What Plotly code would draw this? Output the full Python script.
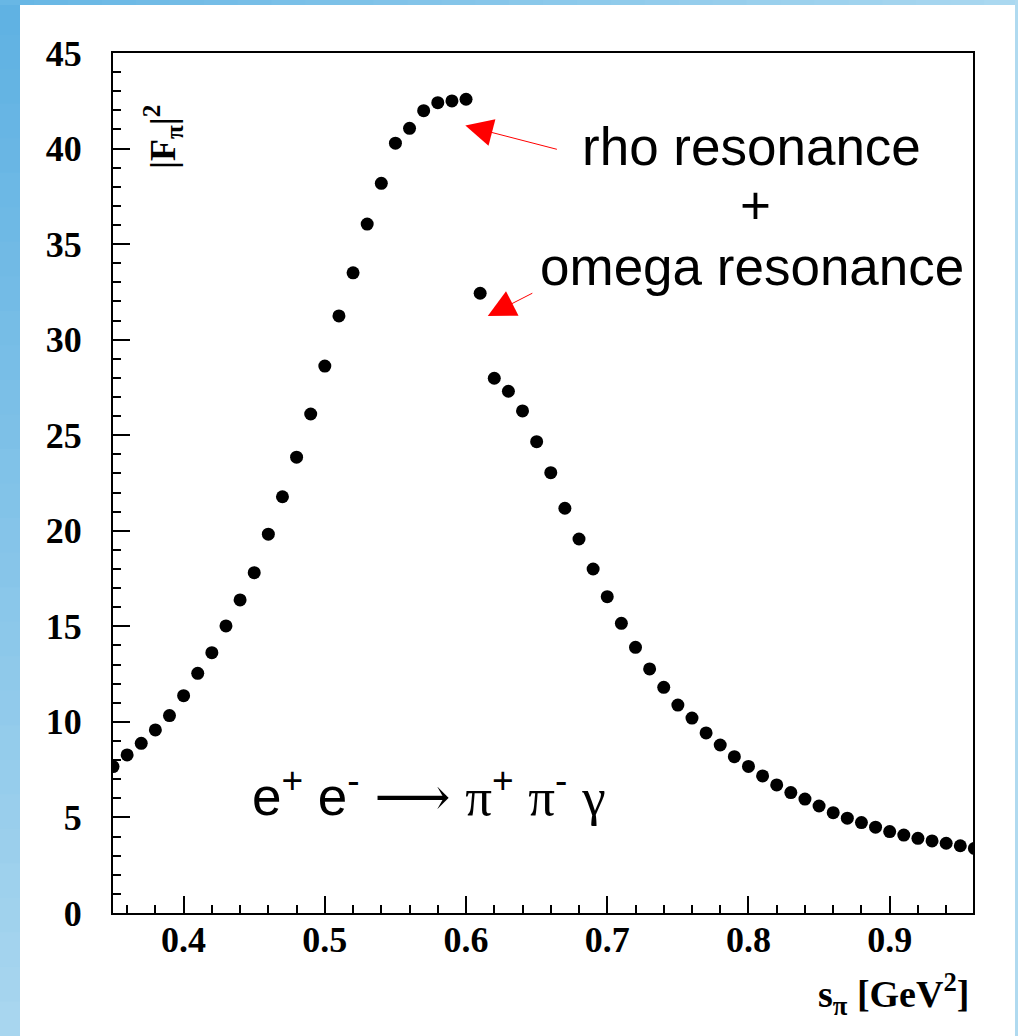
import plotly.graph_objects as go

# |F_pi|^2 vs s_pi
s_pi = [0.35, 0.36, 0.37, 0.38, 0.39, 0.40, 0.41, 0.42, 0.43, 0.44,
        0.45, 0.46, 0.47, 0.48, 0.49, 0.50, 0.51, 0.52, 0.53, 0.54,
        0.55, 0.56, 0.57, 0.58, 0.59, 0.60, 0.61, 0.62, 0.63, 0.64,
        0.65, 0.66, 0.67, 0.68, 0.69, 0.70, 0.71, 0.72, 0.73, 0.74,
        0.75, 0.76, 0.77, 0.78, 0.79, 0.80, 0.81, 0.82, 0.83, 0.84,
        0.85, 0.86, 0.87, 0.88, 0.89, 0.90, 0.91, 0.92, 0.93, 0.94,
        0.95, 0.96]
fpi2 = [7.66, 8.27, 8.88, 9.58, 10.33, 11.37, 12.54, 13.62, 15.02, 16.38,
        17.81, 19.82, 21.78, 23.85, 26.11, 28.62, 31.24, 33.50, 36.05, 38.18,
        40.28, 41.06, 41.98, 42.40, 42.49, 42.58, 32.43, 27.98, 27.30, 26.27,
        24.66, 23.04, 21.18, 19.57, 18.00, 16.55, 15.16, 13.90, 12.77, 11.81,
        10.88, 10.20, 9.42, 8.79, 8.18, 7.67, 7.17, 6.70, 6.30, 5.96,
        5.60, 5.25, 4.96, 4.73, 4.49, 4.26, 4.08, 3.91, 3.77, 3.65,
        3.52, 3.38]

W, H = 1018, 1036
L, R, T, B = 113, 45, 53, 123
PW, PH = W - L - R, H - T - B


def px(x):
    return (x - L) / PW


def py(y):
    return (T + PH - y) / PH


SERIF = "Liberation Serif"
SANS = "Liberation Sans"

fig = go.Figure()
fig.add_trace(go.Scatter(
    x=s_pi, y=fpi2, mode="markers",
    marker=dict(color="black", size=13, line=dict(width=0)),
    showlegend=False,
))

axis_common = dict(
    showgrid=False, zeroline=False,
    showline=True, linecolor="black", linewidth=2, mirror=True,
    ticks="inside", ticklen=17, tickwidth=2, tickcolor="black",
    tickfont=dict(family=SERIF, size=36, color="black", weight="bold"),
)
fig.update_xaxes(range=[0.35, 0.959], dtick=0.1, tick0=0.4,
                 minor=dict(dtick=0.02, ticks="inside", ticklen=8, tickwidth=2, tickcolor="black"),
                 ticklabelstandoff=-6, **axis_common)
fig.update_yaxes(range=[0, 45], dtick=5, tick0=0,
                 minor=dict(dtick=1, ticks="inside", ticklen=8, tickwidth=2, tickcolor="black"),
                 ticklabelstandoff=22, **axis_common)

# blue frame round the slide
shapes = []
n = 30
for i in range(n):
    t = i / (n - 1)
    r = int(96 + (168 - 96) * t)
    g = int(178 + (214 - 178) * t)
    b = int(227 + (239 - 227) * t)
    y0 = i * H / n
    y1 = (i + 1) * H / n + 1
    shapes.append(dict(type="rect", xref="paper", yref="paper",
                       x0=px(0), x1=px(20), y0=py(y1), y1=py(y0),
                       fillcolor=f"rgb({r},{g},{b})", line=dict(width=0), layer="below"))
for i in range(n):
    t = i / (n - 1)
    r = int(104 + (170 - 104) * t)
    g = int(183 + (216 - 183) * t)
    b = int(229 + (240 - 229) * t)
    x0 = i * W / n
    x1 = (i + 1) * W / n + 1
    shapes.append(dict(type="rect", xref="paper", yref="paper",
                       x0=px(x0), x1=px(x1), y0=py(5), y1=py(0),
                       fillcolor=f"rgb({r},{g},{b})", line=dict(width=0), layer="below"))
shapes.append(dict(type="rect", xref="paper", yref="paper",
                   x0=px(1015), x1=px(1018), y0=py(1036), y1=py(0),
                   fillcolor="rgb(176,218,240)", line=dict(width=0), layer="below"))

big = dict(family=SANS, size=53, color="black")
greek = "<span style=\"font-family:'Liberation Serif'\">{}</span>"
annotations = [
    dict(text="rho resonance", x=px(751), y=py(147), font=big),
    dict(text="+", x=px(755), y=py(205), font=big),
    dict(text="omega resonance", x=px(752), y=py(266), font=big),
    dict(text="e<sup>+</sup> e<sup>-</sup> "
              "<span style=\"font-family:'DejaVu Serif'\">\u27f6</span> "
              + greek.format("\u03c0") + "<sup>+</sup> "
              + greek.format("\u03c0") + "<sup>-</sup> "
              + greek.format("\u03b3"),
         x=px(429), y=py(793), font=big),
    dict(text="<b>s<sub>\u03c0</sub> [GeV<sup>2</sup>]</b>", x=px(971), y=py(994),
         xanchor="right", font=dict(family=SERIF, size=38, color="black")),
    dict(text="<b>|F<sub>\u03c0</sub>|<sup>2</sup></b>", x=px(163), y=py(137),
         textangle=-90, font=dict(family=SERIF, size=36, color="black")),
]
for a in annotations:
    a.setdefault("xref", "paper")
    a.setdefault("yref", "paper")
    a.setdefault("xanchor", "center")
    a.setdefault("yanchor", "middle")
    a["showarrow"] = False

# red arrows
arrows = [
    dict(x=0.5995, y=41.2, ax=0.6654, ay=39.94),
    dict(x=0.6154, y=31.24, ax=0.648, ay=32.47),
]
for a in arrows:
    annotations.append(dict(
        x=a["x"], y=a["y"], ax=a["ax"], ay=a["ay"],
        xref="x", yref="y", axref="x", ayref="y",
        text="", showarrow=True, arrowhead=2, arrowsize=5.5, arrowwidth=1,
        arrowcolor="red", standoff=0,
    ))

fig.update_layout(
    width=W, height=H,
    margin=dict(l=L, r=R, t=T, b=B),
    paper_bgcolor="white", plot_bgcolor="white",
    shapes=shapes, annotations=annotations,
)

fig.write_html("out.html", config={"displayModeBar": False},
               post_script="document.body.style.margin='0';")
